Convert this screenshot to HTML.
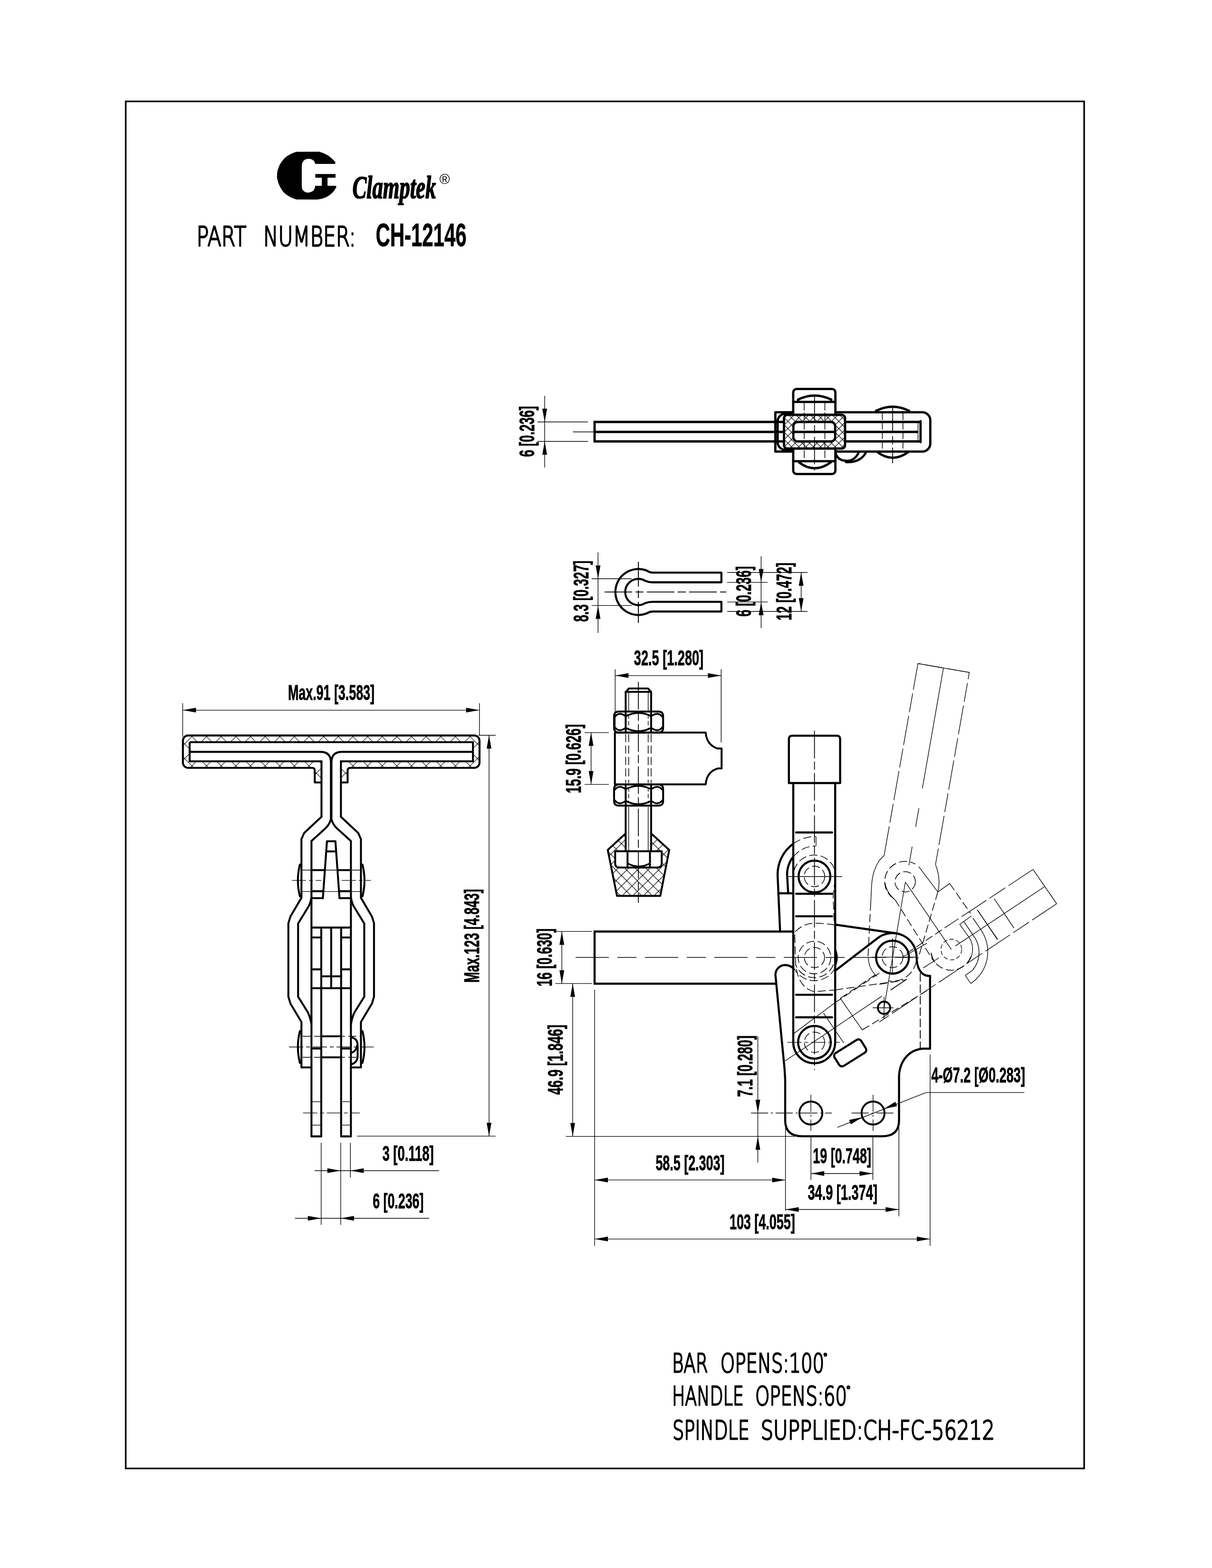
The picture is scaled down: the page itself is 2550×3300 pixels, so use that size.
<!DOCTYPE html>
<html lang="en"><head><meta charset="utf-8"><title>Clamptek CH-12146</title>
<style>
html,body{margin:0;padding:0;background:#fff}
svg{display:block;will-change:transform;transform:translateZ(0)}
.k{fill:none;stroke:#000;stroke-width:var(--k,3.9px);stroke-linecap:round;stroke-linejoin:round}
.kb{fill:none;stroke:#000;stroke-width:var(--k,3.9px);stroke-linecap:butt;stroke-linejoin:miter}
.m{fill:none;stroke:#000;stroke-width:3.2;stroke-linecap:round;stroke-linejoin:round}
.t{fill:none;stroke:#000;stroke-width:1.35;stroke-linecap:butt}
.c{fill:none;stroke:#000;stroke-width:1.7;stroke-dasharray:58 7 17 7}
.h{fill:none;stroke:#000;stroke-width:1.5;stroke-dasharray:17 7}
.hs{fill:none;stroke:#000;stroke-width:1.35;stroke-dasharray:9 5}
.p{fill:none;stroke:#000;stroke-width:1.35;stroke-dasharray:62 8 40 8}
.m2{fill:none;stroke:#000;stroke-width:calc(var(--k,3.9px) - 0.4px)}
.p2{fill:none;stroke:#000;stroke-width:1.35;stroke-dasharray:257 42 40 42}
.c3{fill:none;stroke:#000;stroke-width:1.35;stroke-dasharray:70 18 40 18}
.c4{fill:none;stroke:#000;stroke-width:1.35;stroke-dasharray:36 6 4 6}
.c5{fill:none;stroke:#000;stroke-width:1.35;stroke-dasharray:52 8 16 8}
.h2{fill:none;stroke:#000;stroke-width:1.5;stroke-dasharray:16 4}
.fr{fill:none;stroke:#000;stroke-width:3.4}
.a{fill:#000;stroke:none}
.x{fill:url(#hx);stroke:none}
.x1{fill:url(#hx1);stroke:none}
.x2{fill:url(#hx2);stroke:none}
.c2{fill:none;stroke:#000;stroke-width:1.35;stroke-dasharray:30 6 8 6}
.w{fill:#fff;stroke:none}
text{fill:#000;white-space:pre}
.d{font-family:"Liberation Sans",sans-serif;font-weight:bold;font-size:44.5px;stroke:#000;stroke-width:0.85px}
.s{font-family:"DejaVu Sans","Liberation Sans",sans-serif;font-weight:200;font-size:57.5px;stroke:#000;stroke-width:2.8px;stroke-linejoin:round;stroke-linecap:round;vector-effect:non-scaling-stroke}
.b{font-family:"Liberation Sans",sans-serif;font-weight:bold;font-size:69px;stroke:#000;stroke-width:0.8px}
.l{font-family:"Liberation Serif",serif;font-weight:bold;font-style:italic;font-size:68px;stroke:#000;stroke-width:2px;stroke-linejoin:round}
.r{font-family:"Liberation Sans",sans-serif;font-size:29px}
</style></head>
<body>
<svg width="2550" height="3300" viewBox="0 0 2550 3300">
<defs>
<pattern id="hx" x="1329.7" y="1842.4" width="22.3" height="22.3" patternUnits="userSpaceOnUse"><path d="M-1,-1 L23.3,23.3 M23.3,-1 L-1,23.3" stroke="#000" stroke-width="1.2" fill="none"/></pattern>
<pattern id="hx1" x="1665.3" y="879.1" width="15.3" height="15.3" patternUnits="userSpaceOnUse"><path d="M-1,-1 L16.3,16.3 M16.3,-1 L-1,16.3" stroke="#000" stroke-width="1.2" fill="none"/></pattern>
<pattern id="hx2" x="403.8" y="1550.2" width="30.8" height="30.8" patternUnits="userSpaceOnUse"><path d="M-1,-1 L31.8,31.8 M31.8,-1 L-1,31.8" stroke="#000" stroke-width="1.2" fill="none"/></pattern>
</defs>
<rect class="fr" x="264.5" y="213.4" width="2016.5" height="2877.1" rx="0" />
<path class="a" d="M623.3,319.5 L672.2,319.3 C674.9,320.4 683.8,323.4 688.2,325.9 C692.7,328.4 696,331.7 698.9,334.3 C701.8,336.9 704.4,340.2 705.5,341.4 Q706.5,343.5 704.2,345 L663.3,345 C662.8,344 661.9,340.4 660.6,338.8 C659.3,337.2 657.4,335.9 655.3,335.2 C653.2,334.4 650.7,334 648.2,334.3 C645.7,334.6 642.3,335.4 640.2,337 C638.1,338.6 636.7,341.9 635.8,344.1 C634.9,346.3 635,349 634.9,350 L634.9,390 C635.1,391.4 635.2,396 636.2,398.3 C637.2,400.6 639.1,402.4 641.1,403.6 C643.1,404.8 645.5,405.5 648.2,405.4 C650.9,405.3 654.9,404.1 657.1,402.8 C659.3,401.5 660.5,399.4 661.5,397.4 C662.5,395.4 663,392.1 663.3,391 L705.1,391 Q708,391.3 707.7,393.2 C707,394.5 705.5,398.2 703.3,401 C701.1,403.8 698.1,407.2 694.4,409.9 C690.7,412.6 685.5,415.3 681.1,417 C676.7,418.7 670,419.5 667.8,420 L623.3,419.8 C621.1,418.9 614.4,416.9 610,414.3 C605.6,411.8 600.4,408.5 596.7,404.5 C593,400.5 590,395 587.8,390.3 C585.6,385.6 584.1,379.7 583.3,376.1 C582.5,372.6 582.8,372 582.9,369 C583,366 583.1,362.3 584.2,358.3 C585.3,354.3 587.1,349.3 589.6,345 C592.1,340.7 595.8,335.9 599.3,332.5 C602.8,329.1 606.9,326.8 610.9,324.6 C614.9,322.4 621.2,320.4 623.3,319.5 Z" />
<rect class="a" x="663.3" y="366.3" width="42.7" height="7.7" rx="0.8" />
<rect class="a" x="677.1" y="373.5" width="12" height="18" rx="0" />
<text class="l" x="741.4" y="416.6" textLength="175.8" lengthAdjust="spacingAndGlyphs">Clamptek</text>
<text class="r" x="924.5" y="387" textLength="22" lengthAdjust="spacingAndGlyphs">®</text>
<g id="view-top" style="--k:4.8px">
<line class="t" x1="1146" y1="833" x2="1146" y2="984" />
<polygon class="a" points="1146,888 1141,860 1151,860"/>
<polygon class="a" points="1146,929 1151,957 1141,957"/>
<line class="t" x1="1131" y1="888" x2="1237" y2="888" />
<line class="t" x1="1131" y1="929" x2="1237" y2="929" />
<line class="t" x1="1205.5" y1="909" x2="1251" y2="909" />
<text class="d" transform="translate(1124.1,961.6) rotate(-90)" textLength="107" lengthAdjust="spacingAndGlyphs">6 [0.236]</text>
<path class="k" d="M1758.5,955 Q1763,969.5 1782,970 Q1800,969 1807,951" />
<path class="k" d="M1780,972.6 Q1811,974 1822.5,951" />
<path class="k" d="M1843.5,864.5 Q1878,847.5 1912.5,864.5" />
<line class="k" x1="1843.5" y1="864.5" x2="1843.5" y2="867" />
<line class="k" x1="1912.5" y1="864.5" x2="1912.5" y2="867" />
<path class="k" d="M1846.5,951.7 Q1878,975 1910.4,951.7" />
<path class="w" d="M1631.3,867.7 L1940,867.7 A17,17 0 0 1 1957.3,884.7 L1957.3,933.4 A17,17 0 0 1 1940,950.4 L1631.3,950.4 Z" />
<path class="k" d="M1631.3,867.7 L1940,867.7 A17,17 0 0 1 1957.3,884.7 L1957.3,933.4 A17,17 0 0 1 1940,950.4 L1631.3,950.4 Z" />
<path class="k" d="M1670,870.9 L1652,870.9 A16,16 0 0 0 1636.1,887 L1636.1,930.6 A16,16 0 0 0 1652,946.6 L1670,946.6" />
<path class="kb" d="M1936.8,888 L1251,888 L1251,929 L1936.8,929" />
<line class="k" x1="1251" y1="909" x2="1930" y2="909" />
<line class="t" x1="1931.5" y1="888" x2="1931.5" y2="929" />
<line class="k" x1="1936.8" y1="886.5" x2="1936.8" y2="930.5" />
<rect class="w" x="1668.9" y="818.7" width="88.7" height="178.9" rx="7" />
<rect class="k" x="1668.9" y="818.7" width="88.7" height="178.9" rx="7" />
<line class="k" x1="1668.9" y1="845.9" x2="1757.6" y2="845.9" />
<line class="k" x1="1668.9" y1="970.6" x2="1757.6" y2="970.6" />
<path class="k" d="M1679,843 L1679,841 Q1713.7,824 1749,841 L1749,843" />
<path class="k" d="M1681,973 Q1713.7,998 1748,973" />
<rect class="w" x="1649.5" y="873" width="128.5" height="71" rx="7" />
<rect class="x1" x="1649.5" y="873" width="128.5" height="71" rx="7" />
<rect class="w" x="1669.2" y="888" width="88" height="41" rx="9" />
<rect class="k" x="1649.5" y="873" width="128.5" height="71" rx="7" />
<rect class="k" x="1669.2" y="888" width="88" height="41" rx="9" />
<line class="k" x1="1670" y1="909" x2="1756" y2="909" />
<line class="h2" x1="1692" y1="848" x2="1692" y2="970" />
<line class="h2" x1="1735.5" y1="848" x2="1735.5" y2="970" />
<line class="c" x1="1713.7" y1="830" x2="1713.7" y2="990" />
<line class="h2" x1="1856.4" y1="868" x2="1856.4" y2="950" />
<line class="h2" x1="1899.8" y1="868" x2="1899.8" y2="950" />
<line class="c" x1="1878" y1="853" x2="1878" y2="975" />
</g>
<g id="view-u" style="--k:4.3px">
<path class="k" d="M1517.8,1205.2 L1374,1205.2 Q1367,1205.2 1361.2,1201 A48.4,48.4 0 1 0 1361.2,1290.8 Q1367,1287 1374,1287 L1517.8,1287 L1517.8,1266.7 L1373,1266.7 Q1365,1266.7 1357.7,1269.3 A27.6,27.6 0 1 1 1357.7,1222.5 Q1365,1225.5 1373,1225.5 L1517.8,1225.5 Z" />
<line class="c" x1="1272" y1="1245.9" x2="1528.4" y2="1245.9" style="stroke-width:1.8"/>
<line class="c5" x1="1343.1" y1="1182.5" x2="1343.1" y2="1311" style="stroke-width:1.9"/>
<line class="t" x1="1258.3" y1="1162.6" x2="1258.3" y2="1332" />
<polygon class="a" points="1258.3,1218 1253.3,1190 1263.3,1190"/>
<polygon class="a" points="1258.3,1274.4 1263.3,1302.4 1253.3,1302.4"/>
<line class="t" x1="1244.7" y1="1218" x2="1329" y2="1218" />
<line class="t" x1="1244.7" y1="1274.4" x2="1329" y2="1274.4" />
<text class="d" transform="translate(1237.6,1308.8) rotate(-90)" textLength="128.9" lengthAdjust="spacingAndGlyphs">8.3 [0.327]</text>
<line class="t" x1="1530" y1="1204.7" x2="1699" y2="1204.7" />
<line class="t" x1="1530" y1="1286.7" x2="1699" y2="1286.7" />
<line class="t" x1="1530" y1="1225.6" x2="1615.3" y2="1225.6" />
<line class="t" x1="1530" y1="1266.8" x2="1615.3" y2="1266.8" />
<line class="t" x1="1601.4" y1="1170.6" x2="1601.4" y2="1321.9" />
<polygon class="a" points="1601.4,1225.6 1596.4,1197.6 1606.4,1197.6"/>
<polygon class="a" points="1601.4,1266.8 1606.4,1294.8 1596.4,1294.8"/>
<line class="t" x1="1685.6" y1="1204.7" x2="1685.6" y2="1286.7" />
<polygon class="a" points="1685.6,1204.7 1690.6,1232.7 1680.6,1232.7"/>
<polygon class="a" points="1685.6,1286.7 1680.6,1258.7 1690.6,1258.7"/>
<text class="d" transform="translate(1580,1297.8) rotate(-90)" textLength="106.4" lengthAdjust="spacingAndGlyphs">6 [0.236]</text>
<text class="d" transform="translate(1664.6,1305.7) rotate(-90)" textLength="121.6" lengthAdjust="spacingAndGlyphs">12 [0.472]</text>
</g>
<g id="view-spindle" style="--k:4.0px">
<text class="d" x="1333.8" y="1400" textLength="146.3" lengthAdjust="spacingAndGlyphs">32.5 [1.280]</text>
<line class="t" x1="1294.3" y1="1421.8" x2="1517.3" y2="1421.8" />
<polygon class="a" points="1294.3,1421.8 1322.3,1416.8 1322.3,1426.8"/>
<polygon class="a" points="1517.3,1421.8 1489.3,1426.8 1489.3,1416.8"/>
<line class="t" x1="1294.3" y1="1408.5" x2="1294.3" y2="1541.8" />
<line class="t" x1="1517.3" y1="1408.5" x2="1517.3" y2="1562.5" />
<line class="t" x1="1230" y1="1541.8" x2="1281" y2="1541.8" />
<line class="t" x1="1230" y1="1650.8" x2="1281" y2="1650.8" />
<line class="t" x1="1243.6" y1="1541.8" x2="1243.6" y2="1650.8" />
<polygon class="a" points="1243.6,1541.8 1248.6,1569.8 1238.6,1569.8"/>
<polygon class="a" points="1243.6,1650.8 1238.6,1622.8 1248.6,1622.8"/>
<text class="d" transform="translate(1222.3,1669.5) rotate(-90)" textLength="145.5" lengthAdjust="spacingAndGlyphs">15.9 [0.626]</text>
<path class="k" d="M1302,1497.4 L1385.2,1497.4 Q1395.2,1497.4 1395.2,1507.4 L1395.2,1531.8 Q1395.2,1541.8 1385.2,1541.8 L1302,1541.8 Q1292,1541.8 1292,1531.8 L1292,1507.4 Q1292,1497.4 1302,1497.4 Z" />
<line class="k" x1="1316.4" y1="1497.4" x2="1316.4" y2="1541.8" />
<line class="k" x1="1370" y1="1497.4" x2="1370" y2="1541.8" />
<path class="m2" d="M1316.4,1507.4 Q1343.2,1493.4 1370,1507.4" />
<path class="m2" d="M1316.4,1531.8 Q1343.2,1545.8 1370,1531.8" />
<path class="m2" d="M1293,1509.4 Q1302,1496.4 1316.4,1507.4" />
<path class="m2" d="M1370,1507.4 Q1385.2,1496.4 1394.2,1509.4" />
<path class="m2" d="M1293,1529.8 Q1302,1542.8 1316.4,1531.8" />
<path class="m2" d="M1370,1531.8 Q1385.2,1542.8 1394.2,1529.8" />
<line class="hs" x1="1322.7" y1="1503.4" x2="1322.7" y2="1535.8" />
<line class="hs" x1="1363.7" y1="1503.4" x2="1363.7" y2="1535.8" />
<path class="k" d="M1302,1651 L1385.2,1651 Q1395.2,1651 1395.2,1661 L1395.2,1685.6 Q1395.2,1695.6 1385.2,1695.6 L1302,1695.6 Q1292,1695.6 1292,1685.6 L1292,1661 Q1292,1651 1302,1651 Z" />
<line class="k" x1="1316.4" y1="1651" x2="1316.4" y2="1695.6" />
<line class="k" x1="1370" y1="1651" x2="1370" y2="1695.6" />
<path class="m2" d="M1316.4,1661 Q1343.2,1647 1370,1661" />
<path class="m2" d="M1316.4,1685.6 Q1343.2,1699.6 1370,1685.6" />
<path class="m2" d="M1293,1663 Q1302,1650 1316.4,1661" />
<path class="m2" d="M1370,1661 Q1385.2,1650 1394.2,1663" />
<path class="m2" d="M1293,1683.6 Q1302,1696.6 1316.4,1685.6" />
<path class="m2" d="M1370,1685.6 Q1385.2,1696.6 1394.2,1683.6" />
<line class="hs" x1="1322.7" y1="1657" x2="1322.7" y2="1689.6" />
<line class="hs" x1="1363.7" y1="1657" x2="1363.7" y2="1689.6" />
<path class="k" d="M1316.4,1497 L1316.4,1456.5 L1323,1449 L1363.5,1449 L1370,1456.5 L1370,1497" />
<line class="k" x1="1316.4" y1="1456" x2="1370" y2="1456" />
<line class="t" x1="1322.7" y1="1457" x2="1322.7" y2="1496" />
<line class="t" x1="1363.7" y1="1457" x2="1363.7" y2="1496" />
<path class="k" d="M1293.7,1541.8 L1484.7,1541.8 Q1487,1568 1510,1575.3 L1518.2,1575.3 L1518.2,1617.3 L1510,1617.3 Q1487,1624 1484.7,1650.8 L1293.7,1650.8 Z" />
<line class="h" x1="1316.4" y1="1545" x2="1316.4" y2="1648" />
<line class="h" x1="1370" y1="1545" x2="1370" y2="1648" />
<line class="h" x1="1322.7" y1="1545" x2="1322.7" y2="1648" />
<line class="h" x1="1363.7" y1="1545" x2="1363.7" y2="1648" />
<path class="x" d="M1316,1754.5 L1278.7,1788.8 L1298.1,1885.4 L1389.3,1885.4 L1408,1788.8 L1370.4,1754.5 L1370.4,1791.6 L1392.2,1791.6 L1392.2,1817 Q1392.2,1825.8 1383,1825.8 L1303,1825.8 Q1294.3,1825.8 1294.3,1817 L1294.3,1791.6 L1316,1791.6 Z" />
<path class="k" d="M1316,1754.5 L1278.7,1788.8 L1298.1,1885.4 L1389.3,1885.4 L1408,1788.8 L1370.4,1754.5" />
<line class="k" x1="1316.4" y1="1696" x2="1316.4" y2="1790.6" />
<line class="k" x1="1370" y1="1696" x2="1370" y2="1790.6" />
<line class="t" x1="1322.7" y1="1698" x2="1322.7" y2="1790" />
<line class="t" x1="1363.7" y1="1698" x2="1363.7" y2="1790" />
<path class="k" d="M1294.3,1791.6 L1392.2,1791.6 L1392.2,1817 Q1392.2,1825.8 1383,1825.8 L1303,1825.8 Q1294.3,1825.8 1294.3,1817 Z" />
<line class="k" x1="1320.3" y1="1791.6" x2="1320.3" y2="1825" />
<line class="k" x1="1367.5" y1="1791.6" x2="1367.5" y2="1825" />
<path class="m2" d="M1320.3,1817 Q1344,1830 1367.5,1817" />
<line class="c" x1="1343.1" y1="1435" x2="1343.1" y2="1900" />
</g>
<g id="view-front" style="--k:4.1px">
<text class="d" x="605.9" y="1473" textLength="182.1" lengthAdjust="spacingAndGlyphs">Max.91 [3.583]</text>
<line class="t" x1="384.4" y1="1494.6" x2="1008.7" y2="1494.6" />
<polygon class="a" points="384.4,1494.6 412.4,1489.6 412.4,1499.6"/>
<polygon class="a" points="1008.7,1494.6 980.7,1499.6 980.7,1489.6"/>
<line class="t" x1="384.4" y1="1480" x2="384.4" y2="1551" />
<line class="t" x1="1008.7" y1="1480" x2="1008.7" y2="1548" />
<path class="x2" d="M395.8,1547.9 L997.9,1547.9 A11,11 0 0 1 1008.9,1558.9 L1008.9,1605 A11,11 0 0 1 997.9,1616 L737,1616 Q731.4,1616 731.4,1622 L731.4,1646.7 L717.3,1646.7 L717.3,1602.3 L995.1,1602.3 L995.1,1562 L399,1562 L399,1602.3 L676.4,1602.3 L676.4,1646.7 L662.2,1646.7 L662.2,1622 Q662.2,1616 657,1616 L395.8,1616 A11,11 0 0 1 384.8,1605 L384.8,1558.9 A11,11 0 0 1 395.8,1547.9 Z" fill-rule="evenodd"/>
<path class="k" d="M395.8,1547.9 L997.9,1547.9 A11,11 0 0 1 1008.9,1558.9 L1008.9,1605 A11,11 0 0 1 997.9,1616 L737,1616 Q731.4,1616 731.4,1622 L731.4,1646.7 L717.3,1646.7" />
<path class="k" d="M676.4,1646.7 L662.2,1646.7 L662.2,1622 Q662.2,1616 657,1616 L395.8,1616 A11,11 0 0 1 384.8,1605 L384.8,1558.9 A11,11 0 0 1 395.8,1547.9" />
<path class="kb" d="M399,1562 L995.1,1562 L995.1,1602.3 L717.3,1602.3 L717.3,1719" />
<path class="kb" d="M676.4,1719 L676.4,1602.3 L399,1602.3 L399,1562" />
<path class="k" d="M399,1582.4 L674,1582.4 Q696.2,1582.4 696.2,1604 L696.2,1722" />
<path class="k" d="M995.1,1582.4 L719.6,1582.4 Q697.4,1582.4 697.4,1604 L697.4,1722" />
<path class="k" d="M676.4,1719 L640,1753 L634.2,1766 L634.2,1889.6 L611,1929 L606.7,1943 L606.7,2097.7 L611,2112 L634.2,2150.8 L634.2,2246.5 L655.3,2246.5" />
<path class="k" d="M696.8,1722 Q694,1735 684,1744 L655.3,1770 L655.3,2391.6" />
<path class="k" d="M655.3,1888 Q653,1902 649,1908 L627.2,1943.6 L627.2,2097.7 L648,2131 Q653,2142 655.3,2156" />
<line class="k" x1="675.9" y1="1952.1" x2="675.9" y2="2391.6" />
<line class="k" x1="655.3" y1="2391.6" x2="675.9" y2="2391.6" />
<line class="k" x1="655.3" y1="1831.2" x2="682.4" y2="1831.2" />
<line class="k" x1="655.3" y1="1875.6" x2="680.3" y2="1875.6" />
<line class="k" x1="655.3" y1="1890.3" x2="679.3" y2="1890.3" />
<line class="k" x1="655.3" y1="1973" x2="675.9" y2="1973" />
<line class="k" x1="655.3" y1="2040.1" x2="675.9" y2="2040.1" />
<line class="k" x1="655.3" y1="2206.7" x2="675.9" y2="2206.7" />
<line class="t" x1="657" y1="2318.6" x2="674" y2="2318.6" />
<line class="t" x1="657" y1="2367.9" x2="674" y2="2367.9" />
<path class="k" d="M631,1819.5 Q622.5,1853 631,1886.5" />
<path class="k" d="M631,2170 Q622.5,2203.5 631,2237" />
<path class="k" d="M717.2,1719 L753.6,1753 L759.4,1766 L759.4,1889.6 L782.6,1929 L786.9,1943 L786.9,2097.7 L782.6,2112 L759.4,2150.8 L759.4,2246.5 L738.3,2246.5" />
<path class="k" d="M696.8,1722 Q699.6,1735 709.6,1744 L738.3,1770 L738.3,2391.6" />
<path class="k" d="M738.3,1888 Q740.6,1902 744.6,1908 L766.4,1943.6 L766.4,2097.7 L745.6,2131 Q740.6,2142 738.3,2156" />
<line class="k" x1="717.7" y1="1952.1" x2="717.7" y2="2391.6" />
<line class="k" x1="738.3" y1="2391.6" x2="717.7" y2="2391.6" />
<line class="k" x1="738.3" y1="1831.2" x2="711.2" y2="1831.2" />
<line class="k" x1="738.3" y1="1875.6" x2="713.3" y2="1875.6" />
<line class="k" x1="738.3" y1="1890.3" x2="714.3" y2="1890.3" />
<line class="k" x1="738.3" y1="1973" x2="717.7" y2="1973" />
<line class="k" x1="738.3" y1="2040.1" x2="717.7" y2="2040.1" />
<line class="k" x1="738.3" y1="2206.7" x2="717.7" y2="2206.7" />
<line class="t" x1="736.6" y1="2318.6" x2="719.6" y2="2318.6" />
<line class="t" x1="736.6" y1="2367.9" x2="719.6" y2="2367.9" />
<path class="k" d="M762.6,1819.5 Q771.1,1853 762.6,1886.5" />
<path class="k" d="M762.6,2170 Q771.1,2203.5 762.6,2237" />
<path class="k" d="M679.3,1890.3 L687.9,1770.5 L705.7,1770.5 L714.3,1890.3" />
<line class="k" x1="687" y1="1791.9" x2="706.6" y2="1791.9" />
<line class="k" x1="655.3" y1="1952.1" x2="738.3" y2="1952.1" />
<line class="k" x1="696.8" y1="1952.1" x2="696.8" y2="2079.7" />
<line class="k" x1="675.9" y1="2054.8" x2="717.7" y2="2054.8" />
<line class="k" x1="655.3" y1="2079.7" x2="738.3" y2="2079.7" />
<line class="k" x1="675.9" y1="2181" x2="717.7" y2="2181" />
<line class="k" x1="675.9" y1="2225.3" x2="717.7" y2="2225.3" />
<line class="t" x1="634.2" y1="1831.2" x2="760" y2="1831.2" />
<line class="t" x1="634.2" y1="1876.3" x2="760" y2="1876.3" />
<line class="c2" x1="614" y1="1852.8" x2="676" y2="1852.8" />
<line class="c2" x1="719" y1="1852.8" x2="780.4" y2="1852.8" />
<line class="h" x1="636.7" y1="2181" x2="758" y2="2181" />
<line class="h" x1="636.7" y1="2225.3" x2="758" y2="2225.3" />
<line class="c2" x1="608" y1="2203.5" x2="786.4" y2="2203.5" />
<line class="c2" x1="637.6" y1="2342.3" x2="757" y2="2342.3" />
<path class="k" d="M739,2183 Q752.5,2186 752.5,2200 L752.5,2222 Q752.5,2236 739,2240" />
<path class="k" d="M739,2216 Q750,2212 751.5,2200" />
<line class="t" x1="1006.7" y1="1547.5" x2="1043" y2="1547.5" />
<line class="t" x1="751.2" y1="2391.1" x2="1042.7" y2="2391.1" />
<line class="t" x1="1028.9" y1="1547.5" x2="1028.9" y2="2391.1" />
<polygon class="a" points="1028.9,1547.5 1033.9,1575.5 1023.9,1575.5"/>
<polygon class="a" points="1028.9,2391.1 1023.9,2363.1 1033.9,2363.1"/>
<text class="d" transform="translate(1007.8,2068.1) rotate(-90)" textLength="197" lengthAdjust="spacingAndGlyphs">Max.123 [4.843]</text>
<line class="t" x1="675.7" y1="2405" x2="675.7" y2="2577.7" />
<line class="t" x1="716.8" y1="2405" x2="716.8" y2="2577.7" />
<line class="t" x1="737.2" y1="2405" x2="737.2" y2="2478.5" />
<line class="t" x1="662" y1="2463.7" x2="923.6" y2="2463.7" />
<polygon class="a" points="716.8,2463.7 688.8,2468.7 688.8,2458.7"/>
<polygon class="a" points="737.2,2463.7 765.2,2458.7 765.2,2468.7"/>
<text class="d" x="804.4" y="2442.7" textLength="108.2" lengthAdjust="spacingAndGlyphs">3 [0.118]</text>
<line class="t" x1="620.6" y1="2564" x2="902.9" y2="2564" />
<polygon class="a" points="675.7,2564 647.7,2569 647.7,2559"/>
<polygon class="a" points="716.8,2564 744.8,2559 744.8,2569"/>
<text class="d" x="784.2" y="2542.6" textLength="107.2" lengthAdjust="spacingAndGlyphs">6 [0.236]</text>
</g>
<g id="view-main" style="--k:4.4px">
<path class="p" d="M1860.2,1800.2 L1931.3,1396.5 L2039.4,1415.2 L1968.3,1819.5" />
<line class="t" x1="1931.3" y1="1396.5" x2="2039.4" y2="1415.2" />
<line class="p2" x1="1984.9" y1="1406.3" x2="1912.3" y2="1821" />
<circle class="h" cx="1904.5" cy="1855.8" r="21.4"/>
<path class="h" d="M1880,1890.9 A42.8,42.8 0 0 1 1925.9,1818.7" />
<path class="t" d="M1860.2,1800.2 L1850,1811 Q1836,1832 1834,1860 L1832,1900" />
<path class="t" d="M1968.3,1819.5 Q1980,1850 1973.2,1877.2" />
<line class="t" x1="1933" y1="1823.8" x2="1973.2" y2="1877.2" />
<path class="t" d="M1861.8,1858 Q1866,1880 1883.2,1893.7" />
<line class="h" x1="1883.2" y1="1893.7" x2="1963.7" y2="2021.7" />
<circle class="hs" cx="2001.6" cy="1998.3" r="21.8"/>
<path class="h" d="M2042.6,2013.2 A43.6,43.6 0 0 1 1958.7,2005.9" />
<path class="t" d="M1959,2005 Q1963,2020 1967,2026" />
<line class="p2" x1="1904.5" y1="1855.8" x2="2001.6" y2="1998.3" />
<line class="h" x1="1973.2" y1="1877.2" x2="1931.8" y2="2017" />
<line class="t" x1="1904.5" y1="1858" x2="1860" y2="2121" />
<line class="t" x1="2173.5" y1="1829.8" x2="2223.2" y2="1902" />
<line class="p" x1="2173.5" y1="1829.8" x2="2001.7" y2="1943.5" />
<line class="h" x1="2001.7" y1="1943.5" x2="1900.9" y2="2011" />
<line class="p" x1="2223.2" y1="1902" x2="1850" y2="2150.9" />
<line class="t" x1="2197.2" y1="1866.5" x2="2010" y2="1990.9" />
<line class="t" x1="2091.7" y1="1891.4" x2="2133.2" y2="1953" />
<line class="t" x1="2056.2" y1="1915.1" x2="2098.8" y2="1976.7" />
<line class="t" x1="1973.2" y1="1877.2" x2="1998.1" y2="1859.4" />
<line class="h" x1="1998.1" y1="1859.4" x2="2041.9" y2="1922.2" />
<line class="h" x1="1850" y1="2071.5" x2="1906.9" y2="2062" />
<line class="t" x1="1873.7" y1="2083.3" x2="1908.1" y2="2060.8" />
<line class="t" x1="1942.4" y1="2037.1" x2="1975.6" y2="2015.8" />
<path class="t" d="M2044.2,1927.5 L2019.3,1945.3 L2038.9,1972.9" />
<path class="t" d="M2038.9,1972.9 A43.5,43.5 0 0 1 2037.1,2024.4" />
<path class="t" d="M2028.2,1940 L2046.9,1967.5" />
<path class="t" d="M2046.9,1967.5 A58.6,58.6 0 0 1 2046,2042.2 L2030.9,2052.8" />
<path class="t" d="M2046.9,1932 L2063.7,1956.9" />
<path class="t" d="M2063.7,1956.9 A80,80 0 0 1 2042.4,2069.7" />
<path class="t" d="M2030.9,2052.8 L2042.4,2069.7" />
<path class="t" d="M2056.6,1915.1 L2098.4,1977.3" />
<line class="t" x1="1651.9" y1="2232.7" x2="1855.7" y2="2096.4" />
<line class="t" x1="1670.9" y1="2174.6" x2="1756.2" y2="2110.7" />
<line class="h" x1="1756.2" y1="2110.7" x2="1855.7" y2="2044.3" />
<line class="t" x1="1768" y1="2101.2" x2="1814.2" y2="2167.5" />
<line class="t" x1="1732.5" y1="2132" x2="1775.1" y2="2194.8" />
<line class="h" x1="1768" y1="2101.2" x2="1841.5" y2="2051.4" />
<line class="h" x1="1814.2" y1="2167.5" x2="1950.5" y2="2084.6" />
<line class="t" x1="1900.7" y1="2013.5" x2="1950" y2="1985.1" />
<line class="t" x1="1874.6" y1="2083.4" x2="1907.8" y2="2060.9" />
<line class="h" x1="1832" y1="1899.8" x2="1826.1" y2="2015.9" />
<line class="h" x1="1936.3" y1="2049.1" x2="1936.3" y2="2205.5" />
<path class="t" d="M1827,2016 Q1828,2040 1845,2055" />
<path class="kb" d="M1669,1960.5 L1251,1960.5 L1251,2070.2 L1632.5,2070.2" />
<line class="c3" x1="1211" y1="2015" x2="1941" y2="2015" />
<path class="k" d="M1659.8,1648 L1659.8,1555.5 Q1659.8,1548.4 1667,1548.4 L1760.4,1548.4 Q1767.6,1548.4 1767.6,1555.5 L1767.6,1648 Z" />
<path class="k" d="M1669,1648 L1669,2193.6 A44.1,44.1 0 0 0 1757.2,2193.6 L1757.2,1648" />
<line class="k" x1="1675" y1="1752" x2="1750.5" y2="1752" />
<line class="k" x1="1675" y1="1881" x2="1750.5" y2="1881" />
<line class="k" x1="1675" y1="1928.4" x2="1750.5" y2="1928.4" />
<line class="k" x1="1675" y1="2093.6" x2="1750.5" y2="2093.6" />
<line class="k" x1="1675" y1="2141" x2="1750.5" y2="2141" />
<circle class="k" cx="1713.6" cy="1844.6" r="33.4"/>
<circle class="k" cx="1713.6" cy="2193.6" r="34.4"/>
<circle class="h" cx="1713.6" cy="1844.6" r="21.6"/>
<circle class="h" cx="1713.6" cy="2193.6" r="21.4"/>
<circle class="h" cx="1713.6" cy="2015.2" r="21.2"/>
<circle class="h" cx="1713.6" cy="2015.2" r="34.3"/>
<path class="h" d="M1753.5,2029.7 A42.5,42.5 0 0 1 1673.7,2029.7" />
<path class="h" d="M1757.8,2035.8 A48.8,48.8 0 0 1 1669.4,2035.8" />
<path class="h" d="M1670.1,1833 A45,45 0 0 1 1758.6,1844.6" />
<path class="h" d="M1758,1850 Q1753,1870 1753,1890 L1755,1940" />
<path class="h" d="M1757,1947 Q1735,1943 1713.6,1943 Q1690,1943 1672,1962 L1674,2030 Q1680,2080 1713.6,2087 L1757,2083.4" />
<line class="h" x1="1757" y1="2083.4" x2="1884" y2="2065.5" />
<path class="a" d="M1757.2,1994 Q1768,2015 1757.2,2037 Z" />
<line class="c" x1="1713.6" y1="1538" x2="1713.6" y2="2252" />
<line class="t" x1="1658" y1="1844.7" x2="1772" y2="1844.7" />
<line class="c2" x1="1656.6" y1="2193.6" x2="1767" y2="2193.6" />
<path class="k" d="M1669,1775.8 A80,80 0 0 0 1636,1840.5" />
<path class="k" d="M1669,1803.2 A60,60 0 0 0 1656,1840.5" />
<path class="h" d="M1669,1775.8 A80,80 0 0 1 1716,1760.5" />
<path class="h" d="M1669,1803.2 A60,60 0 0 1 1716,1780.5" />
<line class="t" x1="1717" y1="1760.5" x2="1717" y2="1780.5" />
<line class="k" x1="1636" y1="1840.5" x2="1641.3" y2="1960.5" />
<line class="k" x1="1656" y1="1840.5" x2="1658.3" y2="1880" />
<line class="k" x1="1637.6" y1="1880" x2="1669" y2="1880" />
<path class="k" d="M1669,2037.5 Q1661,2031 1652,2031 A20.5,20.5 0 0 0 1631.6,2053 L1650.7,2250 L1652,2272 L1652,2358 Q1652,2391.4 1688,2391.4 L1856,2391.4 Q1891.5,2391.4 1891.5,2358 L1891.5,2268 C1891.5,2236 1910,2210 1941,2207 L1956.8,2207 L1956.8,2053.7 L1952,2053.7 C1937,2052 1928.8,2036 1928.5,2015" />
<circle class="m2" cx="1706" cy="2342.5" r="24.2"/>
<circle class="m2" cx="1836.9" cy="2342.5" r="24.2"/>
<line class="h" x1="1936.3" y1="2048" x2="1936.3" y2="2207" />
<circle class="k" cx="1877.8" cy="2014.4" r="34.6"/>
<circle class="h" cx="1877.8" cy="2014.4" r="22"/>
<path class="k" d="M1757.2,2043 L1846.4,1974.6 A50.7,50.7 0 0 1 1928.5,2014.8" />
<line class="k" x1="1757.2" y1="1946" x2="1885" y2="1964.2" />
<path class="h" d="M1927.7,2023.2 A50.7,50.7 0 0 1 1869,2064.3" />
<line class="t" x1="1834" y1="2014.4" x2="1928" y2="2014.4" />
<line class="t" x1="1877.8" y1="1975" x2="1877.8" y2="2052" />
<circle class="m2" cx="1860" cy="2121" r="13"/>
<line class="t" x1="1836" y1="2121" x2="1880" y2="2121" />
<line class="t" x1="1860" y1="2098" x2="1860" y2="2144" />
<rect class="k" x="-33" y="-16" width="66" height="32" rx="7" transform="translate(1788.8,2215.9) rotate(-32)"/>
<line class="t" x1="1168.3" y1="1960.4" x2="1245.8" y2="1960.4" />
<line class="t" x1="1168.3" y1="2069.9" x2="1245.8" y2="2069.9" />
<line class="t" x1="1182.1" y1="1960.4" x2="1182.1" y2="2069.9" />
<polygon class="a" points="1182.1,1960.4 1187.1,1988.4 1177.1,1988.4"/>
<polygon class="a" points="1182.1,2069.9 1177.1,2041.9 1187.1,2041.9"/>
<text class="d" transform="translate(1160.8,2076) rotate(-90)" textLength="121.8" lengthAdjust="spacingAndGlyphs">16 [0.630]</text>
<line class="t" x1="1190.7" y1="2391.6" x2="1672.3" y2="2391.6" />
<line class="t" x1="1204.9" y1="2069.9" x2="1204.9" y2="2391.6" />
<polygon class="a" points="1204.9,2069.9 1209.9,2097.9 1199.9,2097.9"/>
<polygon class="a" points="1204.9,2391.6 1199.9,2363.6 1209.9,2363.6"/>
<text class="d" transform="translate(1183.7,2304.1) rotate(-90)" textLength="147.7" lengthAdjust="spacingAndGlyphs">46.9 [1.846]</text>
<line class="t" x1="1251" y1="2083" x2="1251" y2="2621.8" />
<line class="t" x1="1594.5" y1="2180.8" x2="1594.5" y2="2446.5" />
<polygon class="a" points="1594.5,2342.5 1589.5,2314.5 1599.5,2314.5"/>
<polygon class="a" points="1594.5,2391.8 1599.5,2419.8 1589.5,2419.8"/>
<text class="d" transform="translate(1582.6,2308.6) rotate(-90)" textLength="129.2" lengthAdjust="spacingAndGlyphs">7.1 [0.280]</text>
<line class="c4" x1="1580" y1="2342.5" x2="1750" y2="2342.5" />
<line class="c4" x1="1791.8" y1="2342.5" x2="1881" y2="2342.5" />
<line class="c4" x1="1706" y1="2304" x2="1706" y2="2380" />
<line class="c4" x1="1836.9" y1="2304" x2="1836.9" y2="2380" />
<line class="t" x1="1251" y1="2483.4" x2="1652.6" y2="2483.4" />
<polygon class="a" points="1251,2483.4 1279,2478.4 1279,2488.4"/>
<polygon class="a" points="1652.6,2483.4 1624.6,2488.4 1624.6,2478.4"/>
<text class="d" x="1379.4" y="2462.5" textLength="145" lengthAdjust="spacingAndGlyphs">58.5 [2.303]</text>
<line class="t" x1="1652.6" y1="2371.4" x2="1652.6" y2="2548" />
<line class="t" x1="1706.2" y1="2391" x2="1706.2" y2="2483" />
<line class="t" x1="1836.5" y1="2391" x2="1836.5" y2="2483" />
<line class="t" x1="1706.2" y1="2469.7" x2="1836.5" y2="2469.7" />
<polygon class="a" points="1706.2,2469.7 1734.2,2464.7 1734.2,2474.7"/>
<polygon class="a" points="1836.5,2469.7 1808.5,2474.7 1808.5,2464.7"/>
<text class="d" x="1710.3" y="2448" textLength="122.6" lengthAdjust="spacingAndGlyphs">19 [0.748]</text>
<line class="t" x1="1891.3" y1="2371.4" x2="1891.3" y2="2559.7" />
<line class="t" x1="1652.6" y1="2545.5" x2="1891.3" y2="2545.5" />
<polygon class="a" points="1652.6,2545.5 1680.6,2540.5 1680.6,2550.5"/>
<polygon class="a" points="1891.3,2545.5 1863.3,2550.5 1863.3,2540.5"/>
<text class="d" x="1699.4" y="2525.2" textLength="146.6" lengthAdjust="spacingAndGlyphs">34.9 [1.374]</text>
<line class="t" x1="1956.9" y1="2219.3" x2="1956.9" y2="2621.8" />
<line class="t" x1="1251" y1="2607.6" x2="1956.9" y2="2607.6" />
<polygon class="a" points="1251,2607.6 1279,2602.6 1279,2612.6"/>
<polygon class="a" points="1956.9,2607.6 1928.9,2612.6 1928.9,2602.6"/>
<text class="d" x="1534.9" y="2586.8" textLength="137.8" lengthAdjust="spacingAndGlyphs">103 [4.055]</text>
<line class="t" x1="1761.8" y1="2372.6" x2="1948.5" y2="2299.4" />
<line class="t" x1="1948.5" y1="2299.4" x2="2155.3" y2="2299.4" />
<polygon class="a" points="1814.4,2351.3 1790.1,2366.2 1786.5,2356.9"/>
<polygon class="a" points="1859.4,2333.7 1883.7,2318.8 1887.3,2328.1"/>
<text class="d" x="1959.5" y="2278.3" textLength="197.2" lengthAdjust="spacingAndGlyphs">4-Ø7.2 [Ø0.283]</text>
</g>
<text><tspan class="s" x="413.4" y="518" textLength="105" lengthAdjust="spacingAndGlyphs">PART</tspan> <tspan class="s" x="554" y="518" textLength="194.8" lengthAdjust="spacingAndGlyphs">NUMBER:</tspan> <tspan class="b" x="790.4" y="518" textLength="191.2" lengthAdjust="spacingAndGlyphs">CH-12146</tspan></text>
<text><tspan class="s" style="font-size:54.5px" x="1414" y="2887.6" textLength="75.4" lengthAdjust="spacingAndGlyphs">BAR</tspan> <tspan class="s" style="font-size:54.5px" x="1515.8" y="2887.6" textLength="218.3" lengthAdjust="spacingAndGlyphs">OPENS:100</tspan><tspan class="s" style="font-size:19px" x="1731.7" y="2862.5">°</tspan></text>
<text><tspan class="s" style="font-size:54.5px" x="1414" y="2957.3" textLength="150.7" lengthAdjust="spacingAndGlyphs">HANDLE</tspan> <tspan class="s" style="font-size:54.5px" x="1589" y="2957.3" textLength="192.9" lengthAdjust="spacingAndGlyphs">OPENS:60</tspan><tspan class="s" style="font-size:19px" x="1780.2" y="2932">°</tspan></text>
<text><tspan class="s" style="font-size:54.5px" x="1415" y="3029.3" textLength="162" lengthAdjust="spacingAndGlyphs">SPINDLE</tspan> <tspan class="s" style="font-size:54.5px" x="1600.6" y="3029.3" textLength="492.1" lengthAdjust="spacingAndGlyphs">SUPPLIED:CH-FC-56212</tspan></text>
</svg>
</body></html>
